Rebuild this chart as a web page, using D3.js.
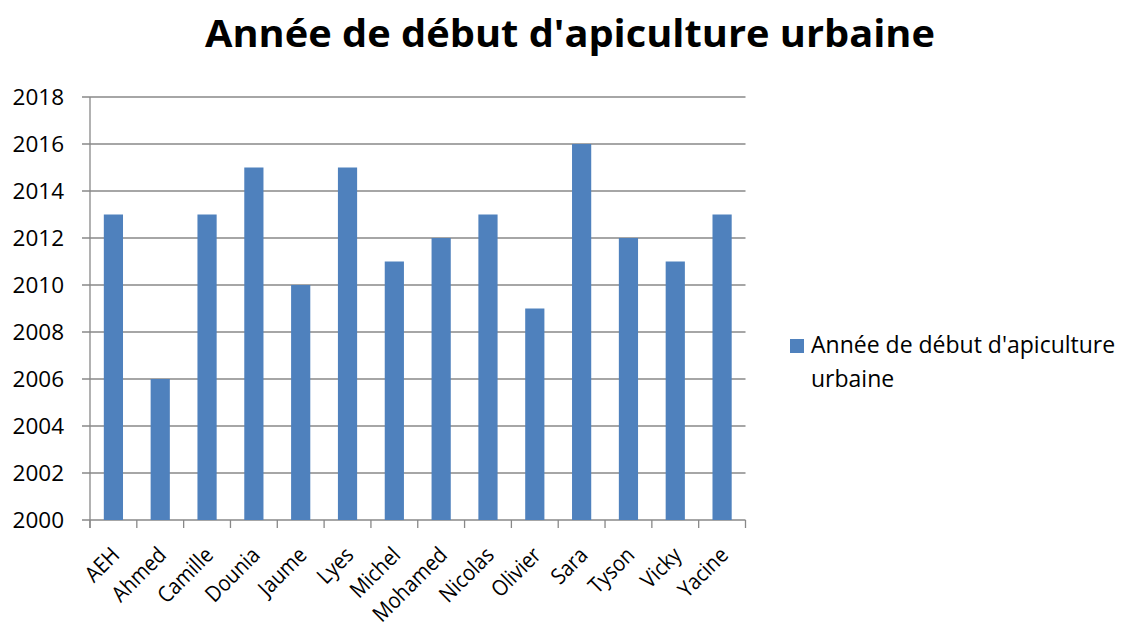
<!DOCTYPE html>
<html><head><meta charset="utf-8">
<script src="https://cdn.jsdelivr.net/npm/d3@7"></script>
<style>body{margin:0;background:#fff}svg{display:block}text{font-family:"Open Sans",sans-serif}</style>
</head><body>
<svg id="c" width="1121" height="633"></svg>
<script>
const categories = ["AEH","Ahmed","Camille","Dounia","Jaume","Lyes","Michel","Mohamed","Nicolas","Olivier","Sara","Tyson","Vicky","Yacine"];
const values = [2013,2006,2013,2015,2010,2015,2011,2012,2013,2009,2016,2012,2011,2013];
const yTicks = [2000,2002,2004,2006,2008,2010,2012,2014,2016,2018];
const seriesName = "Année de début d'apiculture urbaine";
const titleText = "Année de début d'apiculture urbaine";

const svg = d3.select("#c");
const L = 90, R = 745.5, T = 97, B = 520;
const x = d3.scaleBand().domain(categories).range([L, R]).padding(0);
const y = d3.scaleLinear().domain([2000, 2018]).range([B, T]);
const grid = "#888888";

// gridlines
svg.append("g").selectAll("line").data(yTicks).join("line")
  .attr("x1", L - 8).attr("x2", R).attr("y1", d => y(d)).attr("y2", d => y(d))
  .attr("stroke", grid).attr("stroke-width", 1.3);

// y labels
svg.append("g").selectAll("text").data(yTicks).join("text")
  .attr("x", 64).attr("y", d => y(d)).attr("dy", "0.36em")
  .attr("text-anchor", "end").attr("font-size", 22.5).attr("fill", "#000")
  .text(d => d);

// bars
const bw = x.bandwidth() * 0.41;
svg.append("g").selectAll("rect").data(values).join("rect")
  .attr("x", (d, i) => x(categories[i]) + x.bandwidth() / 2 - bw / 2)
  .attr("width", bw)
  .attr("y", d => y(d)).attr("height", d => B - y(d))
  .attr("fill", "#4F81BD");

// y axis line
svg.append("line").attr("x1", L).attr("x2", L).attr("y1", T).attr("y2", B + 8)
  .attr("stroke", grid).attr("stroke-width", 1.3);
// x ticks
const bounds = categories.map(c => x(c)).concat([R]);
svg.append("g").selectAll("line").data(bounds).join("line")
  .attr("x1", d => d).attr("x2", d => d).attr("y1", B).attr("y2", B + 8)
  .attr("stroke", grid).attr("stroke-width", 1.3);

// x labels
svg.append("g").selectAll("text").data(categories).join("text")
  .attr("transform", d => `translate(${x(d) + x.bandwidth() / 2 + 2},${B + 31}) rotate(-45)`)
  .attr("text-anchor", "end").attr("dy", "0.35em")
  .attr("font-size", 22).attr("fill", "#000").text(d => d)
  .each(function () {
    const w = this.getComputedTextLength();
    d3.select(this).attr("textLength", w * 0.9).attr("lengthAdjust", "spacingAndGlyphs");
  });

// title
svg.append("text").attr("x", 205).attr("y", 47).attr("text-anchor", "start")
  .attr("font-size", 37).attr("font-weight", "bold").attr("fill", "#000")
  .attr("textLength", 730).attr("lengthAdjust", "spacingAndGlyphs")
  .text(titleText);

// legend
svg.append("rect").attr("x", 790).attr("y", 339).attr("width", 14).attr("height", 14).attr("fill", "#4F81BD");
const lt = svg.append("text").attr("x", 811).attr("font-size", 23).attr("fill", "#000");
lt.append("tspan").attr("x", 811).attr("y", 353).text("Année de début d'apiculture");
lt.append("tspan").attr("x", 811).attr("y", 387).text("urbaine");
</script>
</body></html>
